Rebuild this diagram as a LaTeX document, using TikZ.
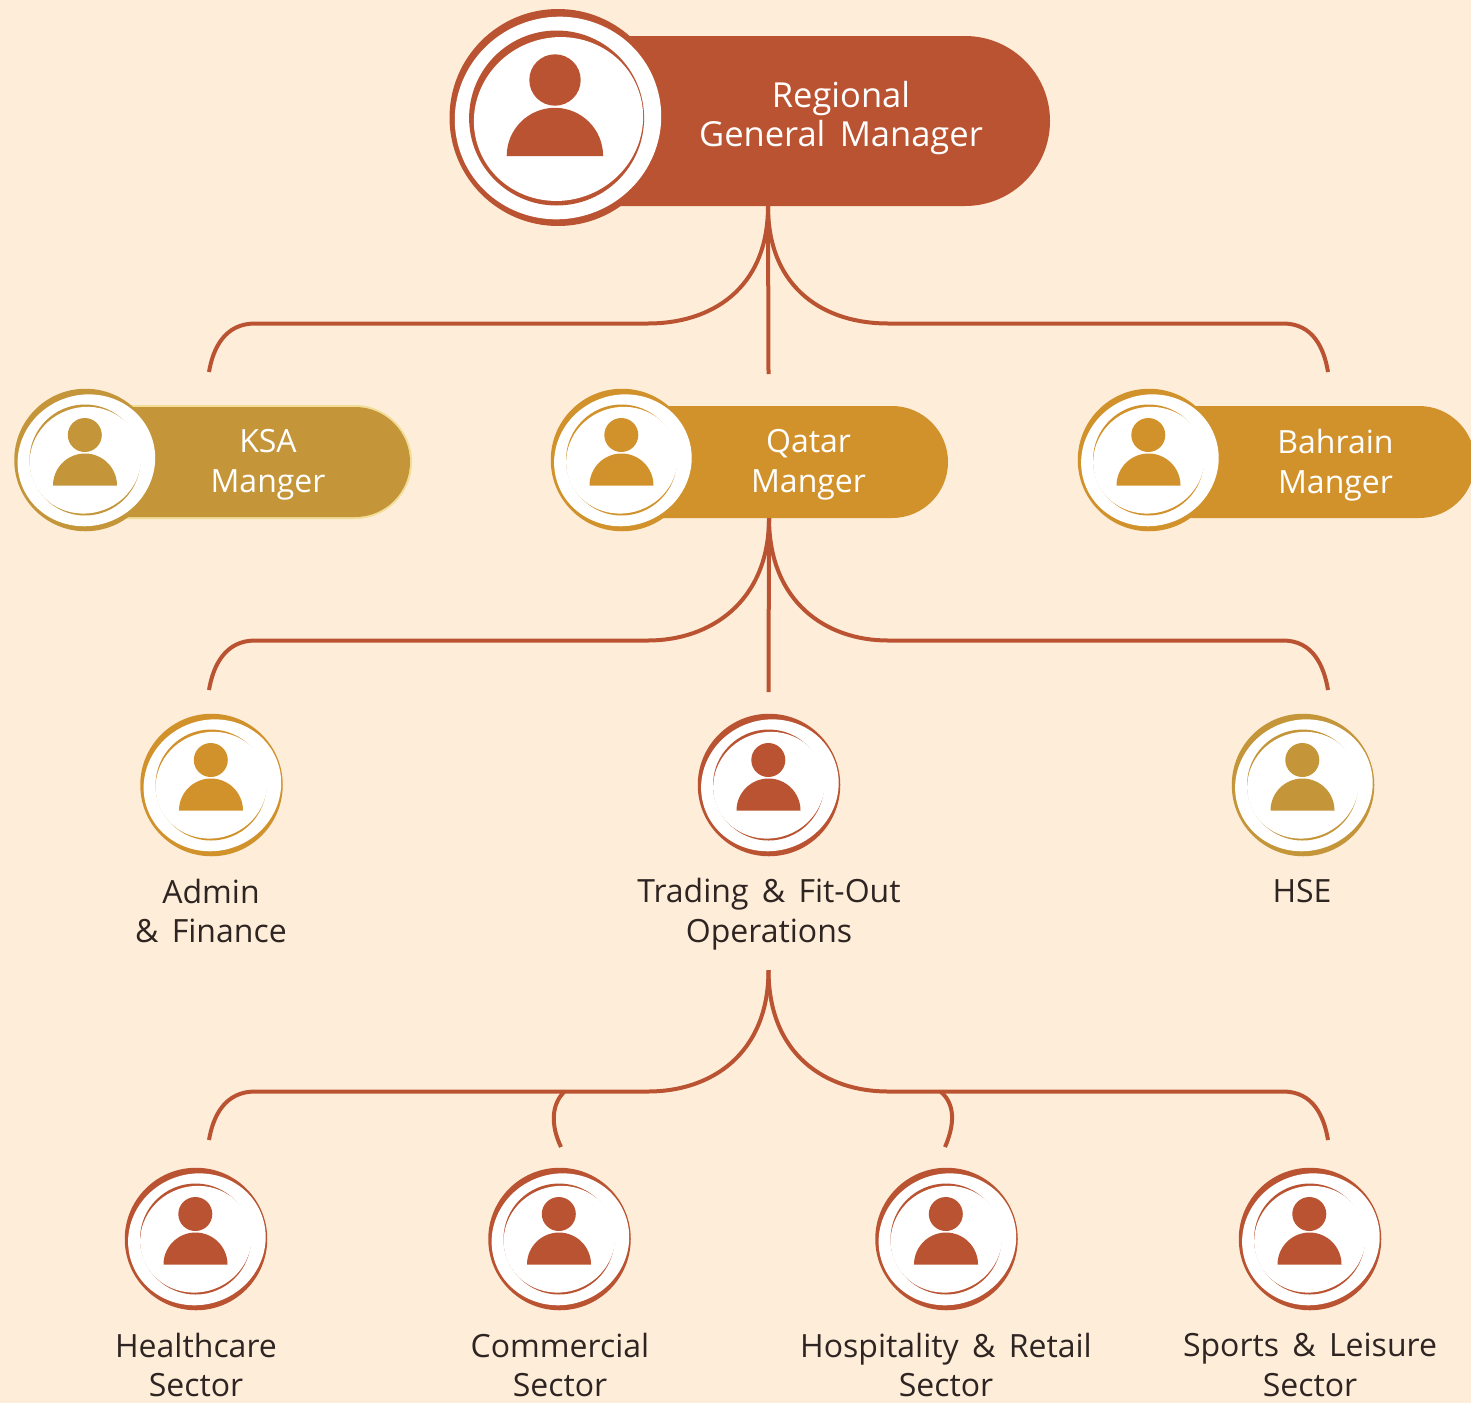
\documentclass[tikz,border=0pt]{standalone}
\usepackage{fontspec}
\setmainfont[WordSpace=1.6]{Open Sans}
\usetikzlibrary{shapes.misc}
\definecolor{bgc}{HTML}{FEEDD9}
\definecolor{rust}{HTML}{BA5331}
\definecolor{gold}{HTML}{D2922B}
\definecolor{olive}{HTML}{C49539}
\definecolor{edgec}{HTML}{F2DD97}
\definecolor{ink}{HTML}{2E2522}
\tikzset{
  conn/.style={draw=rust,line width=4pt},
  pillbox/.style={rounded rectangle,rounded rectangle arc length=180,inner sep=0pt,outer sep=0pt,draw=none},
  ringdisc/.style={circle,inner sep=0pt,outer sep=0pt,minimum size=142.5pt,draw=none},
  bigtext/.style={align=center,text=white,font=\fontsize{34.5}{38.5}\selectfont},
  midtext/.style={align=center,text=white,font=\fontsize{32}{40}\selectfont},
  labeltext/.style={align=center,text=ink,font=\fontsize{32}{39.5}\selectfont}
}
\newcommand{\avatar}[4]{%
  \node[ringdisc,fill=#4] (#1) at (#2,#3) {};
  \fill[white] (#2+0.9,#3+0.3) ellipse[x radius=69.2pt,y radius=65.5pt,rotate=20];
  \fill[#4] (#2-0.5,#3) circle[radius=55.5pt];
  \fill[white] (#2-0.1,#3+0.2) ellipse[x radius=56.1pt,y radius=53pt,rotate=20];
  \fill[#4] (#2-0.7,#3-25) circle[radius=17pt];
  \fill[#4] (#2-32.5,#3+25.5) arc[start angle=180,end angle=0,radius=32pt] -- cycle;
}
\begin{document}
\begin{tikzpicture}[x=1pt,y=-1pt]
\useasboundingbox (0,0) rectangle (1471,1403);
\fill[bgc] (0,0) rectangle (1471,1403);
% pills
\node[pillbox,fill=rust,minimum width=564pt,minimum height=170pt] (gm) at (768,121) {};
\node[pillbox,fill=edgec,minimum width=344pt,minimum height=114pt] (ksaedge) at (240,462) {};
\node[pillbox,fill=olive,minimum width=340pt,minimum height=110pt] (ksa) at (240,462) {};
\node[pillbox,fill=gold,minimum width=358pt,minimum height=112pt] (qatar) at (769,462) {};
\node[pillbox,fill=gold,minimum width=340pt,minimum height=112pt] (bahrain) at (1305,462) {};
% free ends
\coordinate (c1l) at (209,372);
\coordinate (c1m) at (768.5,374);
\coordinate (c1r) at (1328,372);
\coordinate (c2l) at (209,690);
\coordinate (c2m) at (768.5,692);
\coordinate (c2r) at (1328,690);
\coordinate (root3) at (768.5,970);
\coordinate (c3a) at (209,1140);
\coordinate (c3b) at (561,1147);
\coordinate (c3c) at (945,1147);
\coordinate (c3d) at (1328,1140);
\coordinate (j3b) at (564,1092);
\coordinate (j3c) at (941,1092);
% connectors
\draw[conn] (gm.south) .. controls +(0,84) and +(62,0) .. (648,323.5) -- (255,323.5) .. controls +(-30,0) and +(4,-24) .. (c1l);
\draw[conn] (gm.south) -- (c1m);
\draw[conn] (gm.south) .. controls +(0,84) and +(-62,0) .. (888,323.5) -- (1283,323.5) .. controls +(30,0) and +(-4,-24) .. (c1r);
\draw[conn] (qatar.south) .. controls +(0,84) and +(62,0) .. (648,640.5) -- (255,640.5) .. controls +(-30,0) and +(4,-24) .. (c2l);
\draw[conn] (qatar.south) -- (c2m);
\draw[conn] (qatar.south) .. controls +(0,84) and +(-62,0) .. (888,640.5) -- (1283,640.5) .. controls +(30,0) and +(-4,-24) .. (c2r);
\draw[conn] (root3) .. controls +(0,85) and +(62,0) .. (648,1091.5) -- (255,1091.5) .. controls +(-30,0) and +(4,-24) .. (c3a);
\draw[conn] (root3) .. controls +(0,85) and +(-62,0) .. (888,1091.5) -- (1283,1091.5) .. controls +(30,0) and +(-4,-24) .. (c3d);
\draw[conn] (j3b) .. controls (552,1104) and (550,1124) .. (c3b);
\draw[conn] (j3c) .. controls (955,1104) and (955,1124) .. (c3c);
% top avatar
\node[circle,inner sep=0pt,outer sep=0pt,minimum size=217pt,fill=rust] (gmav) at (558,117.5) {};
\fill[white] (558,118) ellipse[x radius=103.5pt,y radius=101pt,rotate=20];
\fill[rust] (556.6,118) circle[radius=87.5pt];
\fill[white] (558.5,119) ellipse[x radius=85pt,y radius=81.5pt,rotate=20];
\fill[rust] (555,80) circle[radius=25.7pt];
\fill[rust] (506.7,156) arc[start angle=180,end angle=0,radius=48.2pt] -- cycle;
% avatars
\avatar{ksaav}{85.5}{460}{olive}
\avatar{qatarav}{622}{460}{gold}
\avatar{bahrainav}{1149}{460}{gold}
\avatar{admin}{211.5}{785}{gold}
\avatar{trading}{769}{785}{rust}
\avatar{hse}{1303}{785}{olive}
\avatar{health}{196}{1239}{rust}
\avatar{comm}{559.5}{1239}{rust}
\avatar{hosp}{946.5}{1239}{rust}
\avatar{sports}{1310}{1239}{rust}
% texts
\node[bigtext] (t0) at (841,118) {Regional\\General Manager};
\node[midtext] (t1) at (268,465) {KSA\\Manger};
\node[midtext] (t2) at (808.5,465) {Qatar\\Manger};
\node[midtext] (t3) at (1335.5,465) {Bahrain\\Manger};
\node[labeltext] (l1) at (211,911) {Admin\\\& Finance};
\node[labeltext] (l2) at (769,914) {Trading \& Fit-Out\\Operations};
\node[labeltext] (l3) at (1302,891) {HSE};
\node[labeltext] (l4) at (196,1365) {Healthcare\\Sector};
\node[labeltext] (l5) at (560,1365) {Commercial\\Sector};
\node[labeltext] (l6) at (946,1365) {Hospitality \& Retail\\Sector};
\node[labeltext] (l7) at (1310,1365) {Sports \& Leisure\\Sector};
\end{tikzpicture}
\end{document}
